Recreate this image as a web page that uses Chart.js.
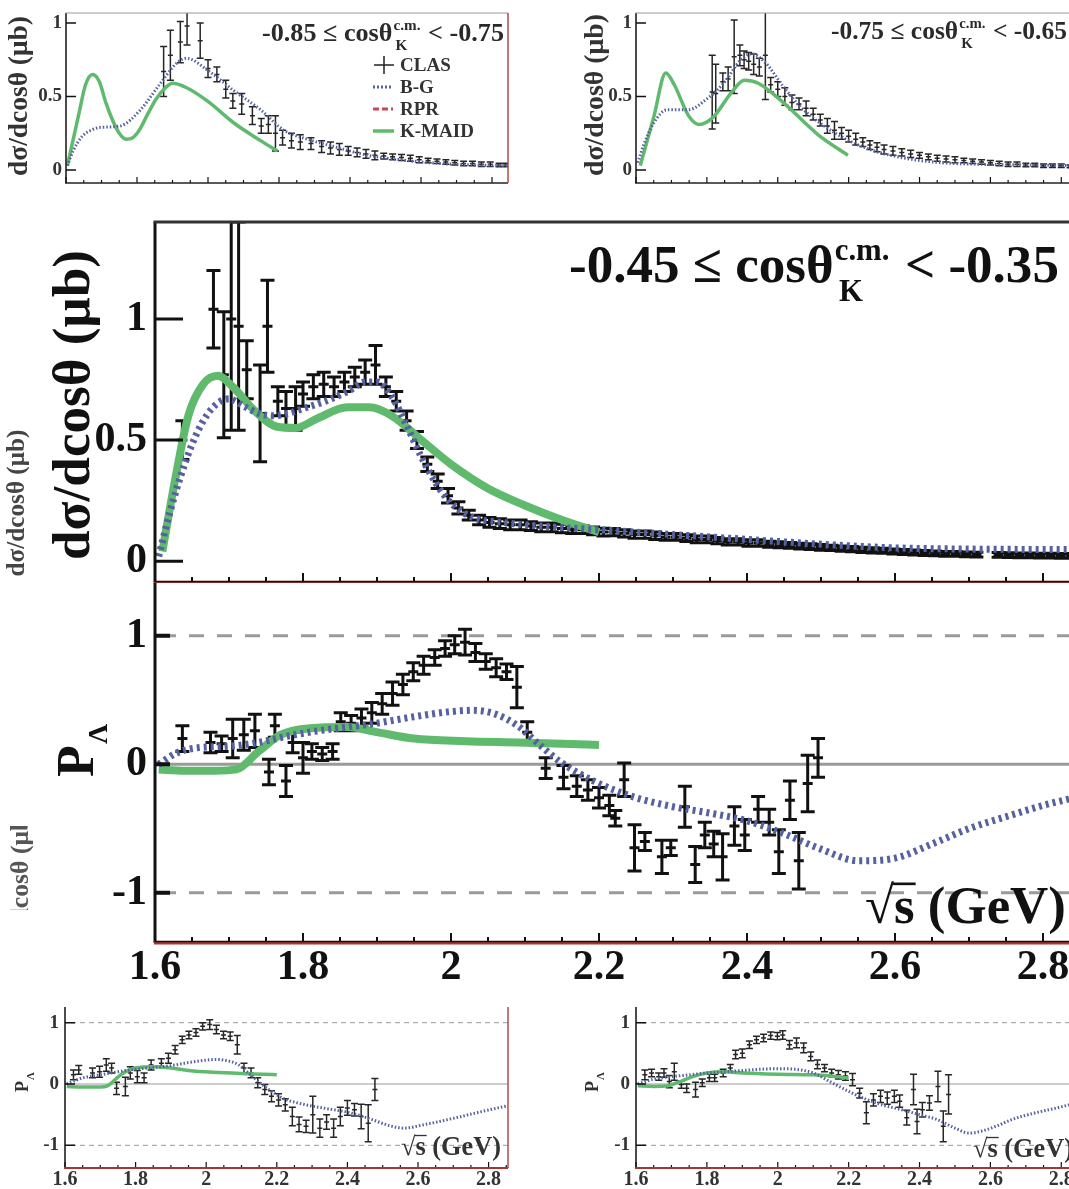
<!DOCTYPE html>
<html><head><meta charset="utf-8">
<script src="https://cdn.jsdelivr.net/npm/chart.js@4.4.1/dist/chart.umd.min.js"></script>
<style>
html,body{margin:0;padding:0;background:#fff;overflow:hidden;width:1069px;height:1189px;position:relative}
canvas{position:absolute}
#mainbg{position:absolute;left:0;top:188px;width:1100px;height:815px;background:#fff}
</style></head><body>
<canvas id="tl"></canvas><canvas id="tr"></canvas><canvas id="bl"></canvas><canvas id="br"></canvas>
<div id="mainbg"></div>
<canvas id="mu"></canvas><canvas id="mp"></canvas>
<script>
// ---------- tick labels ----------
const xTickLabels = [1.6, 1.8, 2.0, 2.2, 2.4, 2.6, 2.8];
const xMinorTicks = [1.65, 1.7, 1.75, 1.85, 1.9, 1.95, 2.05, 2.1, 2.15, 2.25, 2.3, 2.35, 2.45, 2.5, 2.55, 2.65, 2.7, 2.75, 2.85];
const dsTicks = [0, 0.5, 1];
const pTicks = [-1, 0, 1];
const pSolidLines = [0];
const pDashedLines = [-1, 1];

// ---------- main panel: dsigma/dcos, -0.45..-0.35 ----------
const mdX = [1.637,1.679,1.693,1.703,1.713,1.724,1.742,1.752,1.766,1.777,1.790,1.800,1.814,1.828,1.842,1.856,1.870,1.884,1.898,1.912,1.926,1.940,1.954,1.968,1.982,1.996,2.010,2.024,2.038,2.052,2.066,2.080,2.094,2.108,2.122,2.136,2.150,2.164,2.178,2.192,2.206,2.220,2.234,2.248,2.262,2.276,2.290,2.304,2.318,2.332,2.346,2.360,2.374,2.388,2.402,2.416,2.430,2.444,2.458,2.472,2.486,2.500,2.514,2.528,2.542,2.556,2.570,2.584,2.598,2.612,2.626,2.640,2.654,2.668,2.682,2.696,2.710,2.740,2.754,2.768,2.782,2.796,2.810,2.824,2.838];
const mdY = [0.50,1.04,0.77,1.00,0.97,0.79,0.61,0.97,0.66,0.63,0.63,0.69,0.72,0.73,0.72,0.74,0.76,0.78,0.81,0.72,0.66,0.58,0.50,0.40,0.33,0.27,0.22,0.19,0.17,0.16,0.155,0.15,0.15,0.145,0.14,0.14,0.135,0.13,0.13,0.125,0.12,0.12,0.115,0.11,0.11,0.105,0.10,0.10,0.095,0.09,0.09,0.085,0.08,0.08,0.075,0.075,0.07,0.068,0.065,0.062,0.06,0.057,0.055,0.052,0.05,0.047,0.045,0.043,0.04,0.038,0.036,0.034,0.032,0.03,0.03,0.028,0.027,0.026,0.025,0.024,0.024,0.023,0.023,0.022,0.022];
const mdE = [0.08,0.16,0.26,0.46,0.43,0.12,0.20,0.19,0.06,0.07,0.09,0.05,0.05,0.05,0.04,0.04,0.04,0.05,0.08,0.04,0.04,0.04,0.035,0.03,0.03,0.03,0.025,0.02,0.02,0.02,0.02,0.02,0.02,0.018,0.018,0.018,0.018,0.016,0.016,0.016,0.016,0.015,0.015,0.015,0.015,0.015,0.014,0.014,0.014,0.014,0.014,0.013,0.013,0.013,0.013,0.013,0.012,0.012,0.012,0.012,0.012,0.012,0.011,0.011,0.011,0.011,0.011,0.01,0.01,0.01,0.01,0.01,0.01,0.01,0.01,0.01,0.01,0.01,0.01,0.01,0.01,0.01,0.01,0.01,0.01];
const mdBgX = [1.605,1.62,1.64,1.66,1.68,1.70,1.72,1.74,1.76,1.78,1.80,1.83,1.86,1.885,1.90,1.92,1.94,1.96,1.98,2.00,2.03,2.07,2.12,2.20,2.30,2.40,2.50,2.60,2.70,2.85];
const mdBgY = [0.02,0.2,0.4,0.55,0.64,0.67,0.64,0.61,0.60,0.61,0.63,0.66,0.70,0.74,0.74,0.68,0.56,0.43,0.32,0.24,0.18,0.16,0.145,0.13,0.11,0.09,0.07,0.055,0.05,0.048];
const mdKmX = [1.61,1.625,1.645,1.665,1.685,1.705,1.735,1.765,1.79,1.82,1.86,1.89,1.92,1.96,2.00,2.05,2.10,2.15,2.20];
const mdKmY = [0.04,0.30,0.60,0.73,0.765,0.72,0.62,0.555,0.55,0.59,0.635,0.635,0.60,0.50,0.40,0.30,0.23,0.17,0.12];

// ---------- main panel: P_Lambda ----------
const mpX = [1.637,1.675,1.690,1.705,1.720,1.735,1.754,1.762,1.777,1.786,1.800,1.812,1.826,1.840,1.851,1.865,1.879,1.893,1.907,1.921,1.935,1.949,1.963,1.978,1.992,2.005,2.019,2.033,2.047,2.061,2.075,2.089,2.103,2.128,2.152,2.170,2.185,2.200,2.214,2.222,2.234,2.248,2.262,2.285,2.297,2.316,2.330,2.343,2.355,2.367,2.383,2.397,2.415,2.430,2.443,2.458,2.470,2.482,2.496];
const mpY = [0.20,0.17,0.16,0.20,0.23,0.26,-0.06,0.30,-0.13,0.17,0.05,0.10,0.08,0.10,0.33,0.32,0.36,0.40,0.47,0.55,0.62,0.72,0.77,0.83,0.90,0.93,0.95,0.87,0.80,0.75,0.72,0.60,0.25,-0.03,-0.10,-0.17,-0.20,-0.26,-0.32,-0.42,-0.12,-0.65,-0.60,-0.72,-0.65,-0.33,-0.78,-0.55,-0.62,-0.72,-0.48,-0.55,-0.35,-0.45,-0.68,-0.28,-0.75,-0.15,0.05];
const mpE = [0.10,0.08,0.06,0.15,0.12,0.13,0.10,0.09,0.12,0.08,0.12,0.06,0.05,0.06,0.07,0.06,0.07,0.08,0.08,0.09,0.08,0.07,0.07,0.06,0.06,0.07,0.10,0.07,0.06,0.07,0.06,0.16,0.08,0.08,0.09,0.08,0.08,0.08,0.08,0.06,0.13,0.18,0.07,0.13,0.06,0.16,0.14,0.10,0.10,0.18,0.15,0.12,0.10,0.10,0.17,0.15,0.22,0.22,0.15];
const mpBgX = [1.605,1.63,1.66,1.70,1.74,1.78,1.82,1.86,1.90,1.95,2.00,2.03,2.06,2.09,2.12,2.15,2.20,2.25,2.30,2.35,2.40,2.45,2.50,2.55,2.60,2.65,2.70,2.76,2.80,2.85];
const mpBgY = [0.0,0.09,0.13,0.14,0.17,0.22,0.26,0.29,0.32,0.37,0.41,0.42,0.39,0.30,0.15,0.01,-0.15,-0.26,-0.33,-0.38,-0.44,-0.54,-0.66,-0.75,-0.73,-0.62,-0.50,-0.39,-0.32,-0.25];
const mpKmX = [1.605,1.64,1.68,1.71,1.74,1.77,1.81,1.86,1.90,1.95,2.02,2.09,2.15,2.20];
const mpKmY = [-0.04,-0.05,-0.05,-0.04,0.10,0.23,0.28,0.29,0.25,0.20,0.18,0.17,0.16,0.15];

// ---------- top-left small: -0.85..-0.75 ----------
const tlX = [1.875,1.894,1.922,1.941,1.978,2.000,2.025,2.050,2.070,2.095,2.125,2.150,2.170,2.190,2.210,2.235,2.260,2.290,2.320,2.345,2.370,2.395,2.420,2.445,2.470,2.495,2.520,2.545,2.570,2.595,2.620,2.645,2.670,2.695,2.720,2.745,2.770,2.795,2.820,2.840];
const tlY = [0.67,0.78,0.87,0.98,0.88,0.69,0.65,0.55,0.47,0.45,0.37,0.30,0.31,0.25,0.22,0.20,0.19,0.18,0.16,0.15,0.14,0.13,0.12,0.11,0.10,0.095,0.09,0.085,0.08,0.07,0.065,0.06,0.055,0.05,0.045,0.045,0.04,0.04,0.035,0.035];
const tlE = [0.17,0.17,0.14,0.13,0.12,0.06,0.05,0.06,0.05,0.07,0.06,0.05,0.06,0.12,0.05,0.05,0.05,0.04,0.04,0.04,0.04,0.03,0.03,0.03,0.03,0.02,0.02,0.02,0.02,0.02,0.015,0.015,0.015,0.015,0.015,0.015,0.015,0.015,0.012,0.012];
const tlBgX = [1.604,1.62,1.646,1.67,1.696,1.753,1.81,1.866,1.913,1.94,1.998,2.073,2.148,2.214,2.28,2.354,2.45,2.542,2.65,2.75,2.85];
const tlBgY = [0.03,0.13,0.23,0.27,0.29,0.30,0.41,0.59,0.73,0.76,0.68,0.54,0.41,0.27,0.21,0.16,0.10,0.07,0.045,0.035,0.03];
const tlKmX = [1.604,1.637,1.655,1.675,1.694,1.712,1.731,1.75,1.769,1.788,1.806,1.83,1.853,1.88,1.90,1.94,1.998,2.073,2.148,2.195];
const tlKmY = [0.03,0.39,0.58,0.65,0.60,0.46,0.34,0.25,0.21,0.22,0.27,0.38,0.48,0.56,0.59,0.56,0.47,0.32,0.20,0.13];

// ---------- top-right small: -0.75..-0.65 ----------
const trX = [1.815,1.825,1.845,1.860,1.877,1.893,1.905,1.918,1.932,1.948,1.965,1.980,2.000,2.020,2.040,2.060,2.080,2.100,2.120,2.140,2.160,2.180,2.200,2.220,2.240,2.260,2.280,2.300,2.325,2.350,2.375,2.400,2.425,2.450,2.475,2.500,2.525,2.550,2.575,2.600,2.625,2.650,2.675,2.700,2.725,2.750,2.775,2.800,2.825,2.850];
const trY = [0.53,0.52,0.60,0.62,0.77,0.78,0.75,0.74,0.72,0.70,0.78,0.58,0.55,0.50,0.46,0.45,0.42,0.38,0.34,0.30,0.27,0.25,0.23,0.21,0.19,0.17,0.155,0.14,0.13,0.12,0.11,0.10,0.09,0.08,0.075,0.07,0.065,0.06,0.055,0.05,0.045,0.04,0.04,0.035,0.035,0.03,0.03,0.03,0.025,0.025];
const trE = [0.25,0.20,0.06,0.08,0.25,0.07,0.06,0.06,0.07,0.06,0.30,0.05,0.05,0.06,0.05,0.04,0.05,0.04,0.04,0.05,0.06,0.04,0.04,0.04,0.03,0.03,0.03,0.03,0.03,0.025,0.025,0.02,0.02,0.02,0.02,0.02,0.015,0.015,0.015,0.015,0.015,0.015,0.015,0.012,0.012,0.012,0.012,0.012,0.01,0.01];
const trBgX = [1.605,1.62,1.65,1.688,1.748,1.798,1.847,1.896,1.926,1.965,2.015,2.064,2.163,2.26,2.36,2.46,2.56,2.7,2.85];
const trBgY = [0.05,0.16,0.32,0.41,0.41,0.48,0.59,0.75,0.79,0.73,0.57,0.43,0.25,0.14,0.08,0.05,0.04,0.035,0.03];
const trKmX = [1.612,1.65,1.684,1.708,1.748,1.778,1.818,1.867,1.906,1.945,2.015,2.114,2.198];
const trKmY = [0.03,0.36,0.66,0.58,0.37,0.31,0.36,0.52,0.61,0.59,0.46,0.24,0.10];

// ---------- bottom-left small P ----------
const blX = [1.624,1.639,1.678,1.698,1.717,1.732,1.746,1.771,1.785,1.805,1.824,1.844,1.873,1.893,1.912,1.932,1.951,1.971,1.990,2.010,2.029,2.049,2.068,2.088,2.107,2.127,2.146,2.166,2.185,2.205,2.224,2.244,2.263,2.283,2.302,2.322,2.341,2.361,2.380,2.400,2.420,2.439,2.459,2.478];
const blY = [0.15,0.23,0.18,0.20,0.31,0.26,-0.07,-0.04,0.18,0.12,0.10,0.31,0.34,0.42,0.56,0.72,0.80,0.84,0.94,0.97,0.89,0.80,0.78,0.64,0.26,0.18,0.02,-0.09,-0.20,-0.26,-0.34,-0.53,-0.66,-0.69,-0.50,-0.72,-0.62,-0.72,-0.53,-0.39,-0.42,-0.53,-0.64,-0.09];
const blE = [0.08,0.07,0.08,0.09,0.10,0.08,0.10,0.15,0.10,0.10,0.08,0.08,0.07,0.08,0.07,0.06,0.06,0.06,0.06,0.08,0.07,0.06,0.07,0.15,0.08,0.08,0.08,0.08,0.09,0.10,0.10,0.15,0.12,0.10,0.30,0.15,0.12,0.15,0.15,0.12,0.10,0.20,0.30,0.18];
const blBgX = [1.605,1.65,1.70,1.75,1.80,1.85,1.90,1.95,2.00,2.03,2.06,2.09,2.12,2.15,2.18,2.22,2.26,2.30,2.35,2.40,2.46,2.52,2.56,2.62,2.70,2.78,2.85];
const blBgY = [0.0,0.1,0.15,0.2,0.24,0.27,0.3,0.35,0.39,0.4,0.38,0.32,0.18,0.03,-0.1,-0.24,-0.31,-0.36,-0.41,-0.46,-0.56,-0.68,-0.72,-0.66,-0.56,-0.45,-0.36];
const blKmX = [1.605,1.65,1.70,1.72,1.76,1.80,1.85,1.90,1.95,2.02,2.10,2.16,2.20];
const blKmY = [-0.04,-0.05,-0.05,-0.03,0.16,0.26,0.28,0.26,0.22,0.19,0.17,0.16,0.15];

// ---------- bottom-right small P ----------
const brX = [1.625,1.644,1.664,1.679,1.694,1.708,1.728,1.743,1.768,1.787,1.807,1.822,1.846,1.866,1.881,1.900,1.920,1.940,1.960,1.980,1.999,2.014,2.033,2.053,2.073,2.093,2.112,2.132,2.152,2.171,2.191,2.211,2.231,2.250,2.270,2.290,2.309,2.329,2.344,2.364,2.383,2.393,2.408,2.428,2.452,2.467,2.482];
const brY = [0.15,0.18,0.12,0.18,0.04,0.20,-0.01,-0.07,-0.09,0.02,0.10,0.10,0.18,0.26,0.48,0.50,0.64,0.72,0.75,0.79,0.78,0.80,0.64,0.67,0.59,0.45,0.32,0.26,0.18,0.15,0.13,0.07,-0.15,-0.47,-0.26,-0.20,-0.23,-0.20,-0.28,-0.55,-0.09,-0.61,-0.42,-0.31,-0.04,-0.69,-0.17];
const brE = [0.08,0.06,0.06,0.07,0.10,0.14,0.06,0.07,0.12,0.06,0.06,0.06,0.06,0.06,0.07,0.07,0.06,0.06,0.06,0.06,0.06,0.07,0.07,0.08,0.08,0.07,0.07,0.06,0.06,0.07,0.07,0.10,0.08,0.18,0.10,0.10,0.10,0.10,0.10,0.12,0.25,0.20,0.12,0.12,0.25,0.25,0.32];
const brBgX = [1.605,1.65,1.70,1.75,1.80,1.85,1.90,1.95,2.00,2.05,2.10,2.15,2.20,2.25,2.30,2.35,2.40,2.45,2.50,2.54,2.58,2.62,2.66,2.72,2.78,2.85];
const brBgY = [0.0,0.08,0.12,0.15,0.18,0.2,0.22,0.24,0.25,0.24,0.18,0.03,-0.12,-0.25,-0.35,-0.42,-0.5,-0.58,-0.72,-0.8,-0.76,-0.68,-0.58,-0.48,-0.4,-0.3];
const brKmX = [1.605,1.65,1.69,1.72,1.76,1.80,1.85,1.90,2.00,2.10,2.15,2.20];
const brKmY = [-0.03,-0.04,-0.03,0.03,0.12,0.18,0.2,0.18,0.16,0.15,0.13,0.1];

// ---------- helpers ----------
const SERIF = '"Liberation Serif","Times New Roman",serif';
const F = s => `bold ${s}px ${SERIF}`;
const BG_COL = '#56619f', KM_COL = '#5fba6e', RPR_COL = '#c8485a';
const pts = (xs, ys) => xs.map((x, i) => ({x: x, y: ys[i]}));
function fitSize(ctx, txt, w){ ctx.font = F(100); return 100 * w / ctx.measureText(txt).width; }
function rtext(ctx, txt, x, y, size, color, align){
  ctx.save(); ctx.translate(x, y); ctx.rotate(-Math.PI/2);
  ctx.font = F(size); ctx.fillStyle = color; ctx.textAlign = align || 'center'; ctx.textBaseline = 'alphabetic';
  ctx.fillText(txt, 0, 0); ctx.restore();
}
function rtextFit(ctx, txt, xb, yc, len, color){ rtext(ctx, txt, xb, yc, fitSize(ctx, txt, len), color, 'center'); }
function cosLabel(ctx, lo, hi, x0, x1, base, color){
  const a = lo + ' \u2264 cos\u03b8', b = ' < ' + hi;
  ctx.font = F(100); const wa = ctx.measureText(a).width, wb = ctx.measureText(b).width;
  ctx.font = F(58); const ws = ctx.measureText('c.m.').width, wk = ctx.measureText('K').width;
  const wm = Math.max(ws, wk) + 4;
  const s = 100 * (x1 - x0) / (wa + wm + wb), k = s / 100;
  ctx.fillStyle = color; ctx.textAlign = 'left'; ctx.textBaseline = 'alphabetic';
  ctx.font = F(s); ctx.fillText(a, x0, base);
  let x = x0 + wa * k + 1;
  ctx.font = F(0.58 * s); ctx.fillText('c.m.', x, base - 0.42 * s); ctx.fillText('K', x + 0.08 * s, base + 0.36 * s);
  x += wm * k;
  ctx.font = F(s); ctx.fillText(b, x, base);
}
function sqrtLabel(ctx, x0, x1, base, color){
  ctx.font = F(100);
  const wr = ctx.measureText('\u221a').width, ws = ctx.measureText('s').width, wt = ctx.measureText(' (GeV)').width;
  const s = 100 * (x1 - x0) / (wr + ws + wt), k = s / 100;
  ctx.fillStyle = color; ctx.textAlign = 'left'; ctx.textBaseline = 'alphabetic'; ctx.font = F(s);
  ctx.fillText('\u221a', x0, base); ctx.fillText('s', x0 + wr * k, base); ctx.fillText(' (GeV)', x0 + (wr + ws) * k, base);
  ctx.strokeStyle = color; ctx.lineWidth = Math.max(1, s * 0.05);
  const yy = base - 0.74 * s;
  ctx.beginPath(); ctx.moveTo(x0 + wr * k - 1, yy); ctx.lineTo(x0 + (wr + ws) * k + 1, yy); ctx.stroke();
}

// ---------- panel configs ----------
const SMALL = {yLen: 10, yW: 1.5, xMaj: 6, xMin: 3, xW: 1.2, errW: 1.5, cap: 3.5, mid: 2.5, refW: 1, dash: [5, 4]};
const PANELS = {
  tl: Object.assign({}, SMALL, {left: 0, top: 0, w: 520, h: 196, plot: {l: 66, t: 13, r: 508, b: 183},
    xr: [1.6, 2.845], yr: [-0.088, 1.068], yt: dsTicks, yFont: 19, yPad: 4, xLab: false,
    err: [tlX, tlY, tlE], errCol: '#262626', refs: false,
    borders: [['left', '#111', 1.5], ['bottom', '#222', 1.5], ['top', '#999', 1], ['right', '#b64a4a', 1.5]],
    sets: [[tlBgX, tlBgY, 'bg'], [tlKmX, tlKmY, 'km']],
    text: (ctx) => {
      cosLabel(ctx, '-0.85', '-0.75', 262, 503, 41, '#2a2a2a');
      rtextFit(ctx, 'd\u03c3/dcos\u03b8 (\u03bcb)', 27, 96, 160, '#333');
      const fs = fitSize(ctx, 'K-MAID', 74);
      ctx.save();
      ctx.strokeStyle = '#222'; ctx.lineWidth = 1.5; ctx.setLineDash([]);
      ctx.beginPath(); ctx.moveTo(374, 65); ctx.lineTo(394, 65); ctx.moveTo(384, 56); ctx.lineTo(384, 74); ctx.stroke();
      ctx.strokeStyle = BG_COL; ctx.lineWidth = 3; ctx.setLineDash([2, 2]);
      ctx.beginPath(); ctx.moveTo(373, 87); ctx.lineTo(393, 87); ctx.stroke();
      ctx.strokeStyle = RPR_COL; ctx.setLineDash([6, 3]);
      ctx.beginPath(); ctx.moveTo(373, 109); ctx.lineTo(393, 109); ctx.stroke();
      ctx.strokeStyle = KM_COL; ctx.lineWidth = 3.5; ctx.setLineDash([]);
      ctx.beginPath(); ctx.moveTo(373, 131); ctx.lineTo(394, 131); ctx.stroke();
      ctx.fillStyle = '#333'; ctx.font = F(fs); ctx.textAlign = 'left'; ctx.textBaseline = 'middle';
      ctx.fillText('CLAS', 400, 66); ctx.fillText('B-G', 400, 88); ctx.fillText('RPR', 400, 110); ctx.fillText('K-MAID', 400, 132);
      ctx.restore();
    }}),
  tr: Object.assign({}, SMALL, {left: 520, top: 0, w: 580, h: 196, plot: {l: 116, t: 13, r: 559, b: 183},
    xr: [1.6, 2.85], yr: [-0.088, 1.068], yt: dsTicks, yFont: 19, yPad: 4, xLab: false,
    err: [trX, trY, trE], errCol: '#262626', refs: false,
    borders: [['left', '#111', 1.5], ['bottom', '#222', 1.5], ['top', '#999', 1]],
    sets: [[trBgX, trBgY, 'bg'], [trKmX, trKmY, 'km']],
    text: (ctx) => {
      cosLabel(ctx, '-0.75', '-0.65', 311, 546, 39, '#2a2a2a');
      rtextFit(ctx, 'd\u03c3/dcos\u03b8 (\u03bcb)', 83, 95, 162, '#333');
    }}),
  bl: Object.assign({}, SMALL, {left: 0, top: 1000, w: 520, h: 189, plot: {l: 65, t: 7, r: 508, b: 168},
    xr: [1.6, 2.855], yr: [-1.37, 1.256], yt: pTicks, yFont: 19, yPad: 6, xLab: true, xFont: 20, xPad: 0,
    err: [blX, blY, blE], errCol: '#262626', refs: true,
    borders: [['left', '#111', 1.5], ['bottom', '#a33', 1.8], ['right', '#b64a4a', 1.5]],
    sets: [[blBgX, blBgY, 'bg'], [blKmX, blKmY, 'km']],
    text: (ctx) => {
      sqrtLabel(ctx, 401, 501, 155, '#333');
      rtext(ctx, 'P', 28, 92, 18, '#333', 'left');
      rtext(ctx, '\u039b', 34, 80, 11, '#333', 'left');
    }}),
  br: Object.assign({}, SMALL, {left: 520, top: 1000, w: 580, h: 189, plot: {l: 116, t: 7, r: 559, b: 168},
    xr: [1.6, 2.85], yr: [-1.37, 1.256], yt: pTicks, yFont: 19, yPad: 6, xLab: true, xFont: 20, xPad: 0,
    err: [brX, brY, brE], errCol: '#262626', refs: true,
    borders: [['left', '#111', 1.5], ['bottom', '#a33', 1.8]],
    sets: [[brBgX, brBgY, 'bg'], [brKmX, brKmY, 'km']],
    text: (ctx) => {
      sqrtLabel(ctx, 453, 553, 157, '#333');
      rtext(ctx, 'P', 78, 92, 18, '#333', 'left');
      rtext(ctx, '\u039b', 84, 80, 11, '#333', 'left');
    }}),
  mu: {left: 0, top: 196, w: 1100, h: 387, plot: {l: 155, t: 26, r: 1080, b: 387},
    xr: [1.6, 2.85], yr: [-0.09, 1.40], yt: dsTicks, yFont: 42, yPad: 8, xLab: false,
    yLen: 28, yW: 3, xMaj: 10, xMin: 6, xW: 2, errW: 3, cap: 7, mid: 5, big: true,
    err: [mdX, mdY, mdE], errCol: '#111', refs: false,
    borders: [['left', '#111', 3], ['top', '#333', 3], ['bottom', '#a33', 2.5]],
    sets: [[mdBgX, mdBgY, 'bg'], [mdKmX, mdKmY, 'km']],
    text: (ctx) => {
      cosLabel(ctx, '-0.45', '-0.35', 569, 1058, 86, '#111');
      rtextFit(ctx, 'd\u03c3/dcos\u03b8 (\u03bcb)', 89, 209, 310, '#111');
      rtextFit(ctx, 'd\u03c3/dcos\u03b8 (\u03bcb)', 24, 307, 147, '#444');
    }},
  mp: {left: 0, top: 583, w: 1100, h: 417, plot: {l: 155, t: 0, r: 1080, b: 360},
    xr: [1.6, 2.85], yr: [-1.39, 1.41], yt: pTicks, yFont: 42, yPad: 8, xLab: true, xFont: 42, xPad: 0,
    yLen: 15, yW: 4, xMaj: 10, xMin: 6, xW: 2, errW: 3, cap: 7, mid: 5, big: true, refW: 3, dash: [15, 13],
    err: [mpX, mpY, mpE], errCol: '#111', refs: true,
    borders: [['left', '#111', 3], ['bottom', '#a33', 3]],
    sets: [[mpBgX, mpBgY, 'bg'], [mpKmX, mpKmY, 'km']],
    text: (ctx) => {
      sqrtLabel(ctx, 865, 1066, 340, '#111');
      rtext(ctx, 'P', 93, 194, 52, '#111', 'left');
      rtext(ctx, '\u039b', 107, 161, 28, '#111', 'left');
      ctx.save(); ctx.beginPath(); ctx.rect(0, 243, 40, 84); ctx.clip();
      rtextFit(ctx, 'd\u03c3/dcos\u03b8 (\u03bcb)', 28, 300, 150, '#555');
      ctx.restore();
    }}
};

// ---------- drawing plugin ----------
const decoPlugin = {
  id: 'deco',
  beforeDatasetsDraw(chart){
    const o = PANELS[chart.canvas.id]; if (!o) return;
    const {ctx, chartArea: a, scales: {x, y}} = chart;
    ctx.save(); ctx.beginPath(); ctx.rect(a.left, a.top, a.right - a.left, a.bottom - a.top); ctx.clip();
    if (o.refs){
      ctx.strokeStyle = '#9a9a9a'; ctx.lineWidth = o.refW;
      ctx.setLineDash([]);
      pSolidLines.forEach(v => { const py = y.getPixelForValue(v); ctx.beginPath(); ctx.moveTo(a.left, py); ctx.lineTo(a.right, py); ctx.stroke(); });
      ctx.setLineDash(o.dash);
      pDashedLines.forEach(v => { const py = y.getPixelForValue(v); ctx.beginPath(); ctx.moveTo(a.left + 6, py); ctx.lineTo(a.right, py); ctx.stroke(); });
      ctx.setLineDash([]);
    }
    const [ex, ey, ee] = o.err;
    ctx.strokeStyle = o.errCol; ctx.lineWidth = o.errW; ctx.lineCap = 'butt';
    ctx.beginPath();
    for (let i = 0; i < ex.length; i++){
      const px = x.getPixelForValue(ex[i]);
      const p1 = y.getPixelForValue(ey[i] - ee[i]), p2 = y.getPixelForValue(ey[i] + ee[i]), pc = y.getPixelForValue(ey[i]);
      ctx.moveTo(px, p1); ctx.lineTo(px, p2);
      ctx.moveTo(px - o.cap, p1); ctx.lineTo(px + o.cap, p1);
      ctx.moveTo(px - o.cap, p2); ctx.lineTo(px + o.cap, p2);
      ctx.moveTo(px - o.mid, pc); ctx.lineTo(px + o.mid, pc);
    }
    ctx.stroke();
    ctx.restore();
  },
  afterDatasetsDraw(chart){
    const o = PANELS[chart.canvas.id]; if (!o) return;
    const {ctx, chartArea: a, scales: {x, y}} = chart;
    ctx.save();
    ctx.strokeStyle = '#111'; ctx.setLineDash([]);
    ctx.lineWidth = o.xW;
    ctx.beginPath();
    xTickLabels.forEach(v => { const px = x.getPixelForValue(v); ctx.moveTo(px, a.bottom); ctx.lineTo(px, a.bottom - o.xMaj); });
    xMinorTicks.forEach(v => { const px = x.getPixelForValue(v); if (px > a.right) return; ctx.moveTo(px, a.bottom); ctx.lineTo(px, a.bottom - o.xMin); });
    ctx.stroke();
    ctx.lineWidth = o.yW; ctx.beginPath();
    o.yt.forEach(v => { const py = y.getPixelForValue(v); ctx.moveTo(a.left, py); ctx.lineTo(a.left + o.yLen, py); });
    ctx.stroke();
    o.borders.forEach(([side, col, w]) => {
      ctx.strokeStyle = col; ctx.lineWidth = w; ctx.beginPath();
      if (side === 'left'){ ctx.moveTo(a.left, a.top); ctx.lineTo(a.left, a.bottom); }
      if (side === 'right'){ ctx.moveTo(a.right, a.top); ctx.lineTo(a.right, a.bottom); }
      if (side === 'top'){ ctx.moveTo(a.left - w/2, a.top); ctx.lineTo(a.right, a.top); }
      if (side === 'bottom'){ ctx.moveTo(a.left - 1, a.bottom); ctx.lineTo(a.right, a.bottom); }
      ctx.stroke();
    });
    if (o.big){
      ctx.strokeStyle = '#111'; ctx.lineWidth = 1.5; ctx.beginPath();
      ctx.moveTo(a.left, a.bottom - 1.5); ctx.lineTo(a.right, a.bottom - 1.5); ctx.stroke();
    }
    o.text(ctx, chart);
    ctx.restore();
  }
};
Chart.register(decoPlugin);

function lineSet(xs, ys, kind, big){
  const base = {data: pts(xs, ys), pointRadius: 0, fill: false, cubicInterpolationMode: 'monotone', borderCapStyle: 'butt'};
  if (kind === 'bg') return Object.assign(base, {label: 'B-G', borderColor: BG_COL, borderWidth: big ? 7 : 3, borderDash: big ? [3, 4] : [1.5, 2]});
  return Object.assign(base, {label: 'K-MAID', borderColor: KM_COL, borderWidth: big ? 8 : 3.5});
}

Object.keys(PANELS).forEach(id => {
  const o = PANELS[id];
  const cv = document.getElementById(id);
  cv.width = o.w; cv.height = o.h;
  Object.assign(cv.style, {left: o.left + 'px', top: o.top + 'px', width: o.w + 'px', height: o.h + 'px'});
  new Chart(cv, {
    type: 'line',
    data: {datasets: o.sets.map(s => lineSet(s[0], s[1], s[2], !!o.big))},
    options: {
      responsive: false, animation: false, devicePixelRatio: 1,
      layout: {padding: {left: 0, top: o.plot.t, right: o.w - o.plot.r, bottom: 0}},
      plugins: {legend: {display: false}, tooltip: {enabled: false}, title: {display: false}},
      elements: {point: {radius: 0}, line: {tension: 0.4}},
      scales: {
        x: {type: 'linear', min: o.xr[0], max: o.xr[1], offset: false,
          grid: {display: false, drawTicks: false}, border: {display: false},
          afterBuildTicks: s => { s.ticks = xTickLabels.map(v => ({value: v})); },
          afterFit: s => { s.height = o.h - o.plot.b; s.paddingLeft = 0; s.paddingRight = 0; s.paddingTop = 0; s.paddingBottom = 0; },
          ticks: {display: o.xLab, autoSkip: false, maxRotation: 0, minRotation: 0, padding: o.xPad || 0,
            color: o.big ? '#111' : '#333', font: {family: SERIF, weight: 'bold', size: o.xFont || 12},
            callback: v => String(v)}},
        y: {type: 'linear', min: o.yr[0], max: o.yr[1],
          grid: {display: false, drawTicks: false}, border: {display: false},
          afterBuildTicks: s => { s.ticks = o.yt.map(v => ({value: v})); },
          afterFit: s => { s.width = o.plot.l; s.paddingLeft = 0; s.paddingRight = 0; s.paddingTop = 0; s.paddingBottom = 0; },
          ticks: {autoSkip: false, padding: o.yPad, color: o.big ? '#111' : '#333',
            font: {family: SERIF, weight: 'bold', size: o.yFont}, callback: v => String(v)}}
      }
    }
  });
});
</script>
</body></html>
